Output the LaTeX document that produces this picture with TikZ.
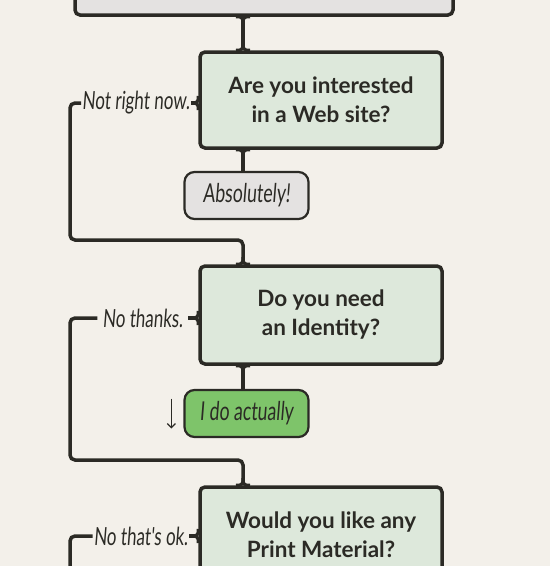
\documentclass[tikz,border=0pt]{standalone}
\usepackage{fontspec}
\setmainfont{Lato}
\newfontfamily\handfont{Lato}[FakeStretch=0.68, FakeSlant=0.08]
\usetikzlibrary{positioning,calc,arrows.meta}

\definecolor{paper}{HTML}{F3F0EA}
\definecolor{ink}{HTML}{2B2A25}
\definecolor{sage}{HTML}{DDE8DB}
\definecolor{stone}{HTML}{E4E2E1}
\definecolor{leaf}{HTML}{7EC46A}

\begin{document}
\begin{tikzpicture}[x=1pt,y=-1pt,
  wire/.style={draw=ink, line width=3.5pt, rounded corners=5pt},
  question/.style={draw=ink, line width=3.5pt, fill=sage, rounded corners=5pt,
    minimum width=242pt, minimum height=96pt, align=center, text=ink,
    font=\fontsize{22.5}{29}\selectfont\bfseries},
  answer/.style={draw=ink, line width=2.2pt, rounded corners=10pt,
    minimum width=124pt, minimum height=47pt, text=ink,
    font=\fontsize{26}{26}\handfont},
  hand/.style={inner sep=0pt, text=ink, font=\fontsize{25}{26}\handfont}]

% Page
\useasboundingbox (0,0) rectangle (550,566);
\fill[paper] (0,0) rectangle (550,566);
\clip (0,0) rectangle (550,566);

% Spine and loop column
\def\sx{243}
\def\lx{70}
\coordinate (spine) at (\sx,0);

% Boxes
\node[draw=ink, line width=3.5pt, fill=stone, rounded corners=5pt,
      minimum width=378pt, minimum height=50pt] (intro) at (264,-10) {};
\node[question] (q1) at (321,100) {Are you interested\\in a Web site?};
\node[answer, fill=stone] (ans1) at (246.5,195.5) {Absolutely!};
\node[question, minimum height=98pt] (q2) at (321,315) {Do you need\\an Identity?};
\node[answer, fill=leaf] (ans2) at (246.5,413.5) {I do actually};
\node[question] (q3) at (321,535) {Would you like any\\Print Material?};

% Side labels
\node[hand, anchor=east] (nrn) at (190,103) {Not right now.};
\node[hand, anchor=east] (nt)  at (183,318) {No thanks.};
\node[hand, anchor=east] (nto) at (188,536) {No that's ok.};

% Bends of the loops
\coordinate (bend1) at (\lx,240);
\coordinate (bend2) at (\lx,460);
\coordinate (bend3) at (\lx,620);

% Stems
\draw[wire] (intro.south -| spine) -- (q1.north -| spine);
\draw[wire] (q1.south -| spine) -- (ans1.north -| spine);
\draw[wire] (q2.south -| spine) -- (ans2.north -| spine);

% Loops
\draw[wire] ([xshift=-1pt]nrn.west) -| (bend1) -| (q2.north -| spine);
\draw[wire] ([xshift=-5pt]nt.west) -| (bend2) -| (q3.north -| spine);
\draw[wire] ([xshift=-1pt]nto.west) -| (bend3);
\draw[wire] ([xshift=1pt]nrn.east) -- (nrn.east -| q1.west);
\draw[wire] ([xshift=5pt]nt.east) -- (nt.east -| q2.west);
\draw[wire] ([xshift=1pt]nto.east) -- (nto.east -| q3.west);

% Brace tips on box tops
\foreach \n in {q1,q2,q3} {
  \path (\n.north -| spine) coordinate (tip);
  \draw[wire, line width=3pt, rounded corners=0] ($(tip)+(-7,0)$) .. controls +(6,0) and +(0,6) .. ($(tip)+(0,-7)$)
    .. controls +(0,6) and +(-6,0) .. ($(tip)+(7,0)$);
}
% Brace tips on box bottoms
\foreach \n in {intro,q1,q2} {
  \path (\n.south -| spine) coordinate (tip);
  \draw[wire, line width=3pt, rounded corners=0] ($(tip)+(-7,0)$) .. controls +(6,0) and +(0,-6) .. ($(tip)+(0,7)$)
    .. controls +(0,-6) and +(-6,0) .. ($(tip)+(7,0)$);
}
% Brace tips on left sides
\foreach \n/\l in {q1/nrn,q2/nt,q3/nto} {
  \path (\l.east -| \n.west) coordinate (tip);
  \draw[wire, line width=3pt, rounded corners=0] ($(tip)+(0,-7)$) .. controls +(0,6) and +(6,0) .. ($(tip)+(-7,0)$)
    .. controls +(6,0) and +(0,-6) .. ($(tip)+(0,7)$);
}

% Little arrow
\draw[ink, line width=1.3pt, -{Straight Barb[length=4pt,width=8pt]}]
  ($(ans2.west)+(-12,-15)$) -- ($(ans2.west)+(-12,15)$);

\end{tikzpicture}
\end{document}
